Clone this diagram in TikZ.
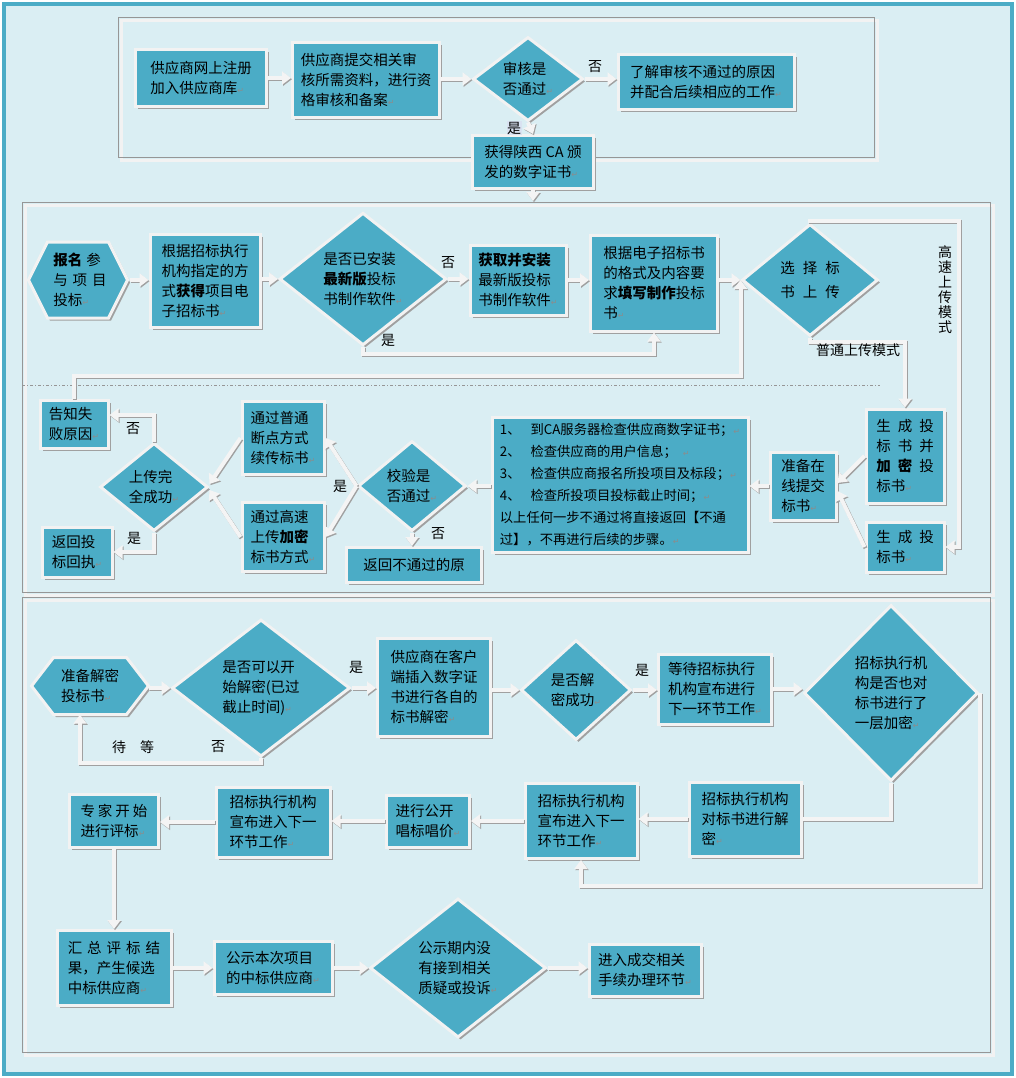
\documentclass[tikz,border=0pt]{standalone}
\usepackage{fontspec}
\setmainfont{Noto Sans CJK SC}
\newfontfamily\djv{DejaVu Sans}
\usetikzlibrary{shapes.geometric,arrows.meta,shadows}
\definecolor{bgc}{HTML}{DAEEF3}
\definecolor{teal1}{HTML}{4BACC6}
\definecolor{edgec}{HTML}{F2F2F2}
\definecolor{arrc}{HTML}{F4F4F4}
\definecolor{shc}{HTML}{A0A0A0}
\definecolor{frc}{HTML}{969696}
\definecolor{retc}{HTML}{8C8C8C}
\definecolor{labbg}{HTML}{D9E2F1}
\newcommand\retmark{{\djv\fontsize{8}{8}\selectfont\color{retc}↵}}
\tikzset{
  box/.style={draw=edgec, line width=3pt, fill=teal1, inner sep=0pt, align=left,
    font=\fontsize{14.5}{20}\selectfont,
    drop shadow={shadow xshift=2.5pt, shadow yshift=-2.5pt, fill=shc, opacity=1}},
  dia/.style={box, diamond},
  txt/.style={inner sep=0pt, align=left, font=\fontsize{14.5}{20}\selectfont},
  hexs/.style={fill=teal1, draw=edgec, line width=3pt,
    drop shadow={shadow xshift=2.5pt, shadow yshift=-2.5pt, fill=shc, opacity=1}},
  lab/.style={inner sep=0.5pt, font=\fontsize{14}{16}\selectfont},
  arr/.style={line width=4pt, draw=arrc, -{Triangle[width=13pt,length=9pt]},
    preaction={draw=shc, line width=4pt, transform canvas={shift={(1pt,-1.2pt)}}}},
  ln/.style={line width=4pt, draw=arrc,
    preaction={draw=shc, line width=4pt, transform canvas={shift={(1pt,-1.2pt)}}}},
  frg/.style={draw=frc, line width=1pt},
  frw/.style={draw=edgec, line width=3pt},
}
\begin{document}
\begin{tikzpicture}[x=1pt,y=-1pt]
\useasboundingbox (0,0) rectangle (1016,1078);
\fill[white] (0,0) rectangle (1016,1078);
\draw[teal1, line width=4pt, fill=bgc] (4,4) rectangle (1012,1074);

% section frames
\draw[frw] (121,21) rectangle (877,161);
\draw[frg] (118,18) rectangle (874,158);
\draw[frw] (25,205) rectangle (993,595);
\draw[frg] (22,202) rectangle (990,592);
\draw[frw] (25,600) rectangle (993,1055);
\draw[frg] (22,597) rectangle (990,1052);
\draw[frc, line width=1pt, dash dot] (22,385) -- (880,385);

\coordinate (s2top) at (0,201);
\coordinate (r1) at (0,376);
\coordinate (hs) at (959,221);
\coordinate (r3) at (0,886);

% ---------- section 1 ----------
\node[box, minimum width=131, minimum height=57] (A1) at (201,78) {供应商网上注册\\加入供应商库\retmark};
\node[box, minimum width=147, minimum height=75] (A2) at (366,80) {供应商提交相关审\\核所需资料，进行资\\格审核和备案\retmark};
\node[dia, minimum width=110, minimum height=84] (D1) at (528,79) {审核是\\否通过\retmark};
\node[box, minimum width=176, minimum height=55] (A3) at (706,82) {了解审核不通过的原因\\并配合后续相应的工作\retmark};
\node[box, minimum width=121, minimum height=53] (A4) at (533,162) {获得陕西 CA 颁\\发的数字证书\retmark};

\draw[arr] (A1.east) -- (A1.east -| A2.west);
\draw[arr] (D1.west -| A2.east) -- (D1.west);
\draw[arr] (D1.east) -- (D1.east -| A3.west);
\draw[arr] (D1.south) -- (A4.north);
\draw[arr] (A4.south) -- (A4.south |- s2top);
\node[lab] (l1) at (595,67) {否};
\node[lab, fill=labbg] (l2) at (514,128) {是};

% ---------- section 2 ----------
\filldraw[hexs] (28.5,280) -- (47.5,242) -- (108.5,242) -- (127.5,280) -- (108.5,318) -- (47.5,318) -- cycle;
\node[txt, minimum width=99, minimum height=76] (B1) at (80,280) {\textbf{报名}\hspace{4pt}参\\与\hspace{5pt}项\hspace{5pt}目\\投标\retmark};
\node[box, minimum width=110, minimum height=93] (B2) at (205,281) {根据招标执行\\机构指定的方\\式\textbf{获得}项目电\\子招标书\retmark};
\node[dia, minimum width=167, minimum height=128] (D2) at (363,279) {是否已安装\\\textbf{最新版}投标\\书制作软件\retmark};
\node[box, minimum width=96, minimum height=70] (B3) at (518,280) {\textbf{获取并安装}\\最新版投标\\书制作软件\retmark};
\node[box, minimum width=127, minimum height=96] (B4) at (654,283) {根据电子招标书\\的格式及内容要\\求\textbf{填写制作}投标\\书\retmark};
\node[dia, minimum width=136, minimum height=112] (D3) at (810,280) {选\hspace{8pt}择\hspace{8pt}标\\[4pt]书\hspace{8pt}上\hspace{8pt}传};

\node[box, minimum width=78, minimum height=94] (B5) at (905,456) {生\hspace{7pt}成\hspace{7pt}投\\标\hspace{7pt}书\hspace{7pt}并\\\textbf{加\hspace{7pt}密}\hspace{7pt}投\\标书\retmark};
\node[box, minimum width=78, minimum height=50] (B6) at (905,547) {生\hspace{7pt}成\hspace{7pt}投\\标书\retmark};
\node[box, minimum width=66, minimum height=68] (B7) at (803,486) {准备在\\线提交\\标书\retmark};
\node[box, minimum width=256, minimum height=135, font=\fontsize{13.3}{22}\selectfont] (B8) at (620,485) {1、\hspace{10pt}到CA服务器检查供应商数字证书；\retmark\\2、\hspace{10pt}检查供应商的用户信息；\hspace{6pt}\retmark\\3、\hspace{10pt}检查供应商报名所投项目及标段；\retmark\\4、\hspace{10pt}检查所投项目投标截止时间；\retmark\\以上任何一步不通过将直接返回【不通\\过】，不再进行后续的步骤。\retmark};
\node[dia, minimum width=108, minimum height=90] (D4) at (412,486) {校验是\\否通过\retmark};
\node[box, minimum width=135, minimum height=35] (B9) at (414,565) {返回不通过的原};
\node[box, minimum width=82, minimum height=73] (B10) at (283,438) {通过普通\\断点方式\\续传标书\retmark};
\node[box, minimum width=82, minimum height=69] (B11) at (283,537) {通过高速\\上传\textbf{加密}\\标书方式\retmark};
\node[dia, minimum width=108, minimum height=88] (D5) at (154,487) {上传完\\全成功\retmark};
\node[box, minimum width=68, minimum height=48] (B12) at (74,424) {告知失\\败原因\retmark};
\node[box, minimum width=70, minimum height=50] (B13) at (77,552) {返回投\\标回执\retmark};

\draw[arr] (B1.east) -- (B1.east -| B2.west);
\draw[arr] (D2.west -| B2.east) -- (D2.west);
\draw[arr] (D2.east) -- (D2.east -| B3.west);
\draw[arr] (B3.east) -- (B3.east -| B4.west);
\draw[arr] (D3.west -| B4.east) -- (D3.west);
\draw[arr] (D2.south) -- ++(0,7) -| (B4.south);
\draw[arr] (B12.north) -- (B12.north |- r1) -- (D3.west |- r1) -- (D3.west);
\draw[arr] (D3.north) |- (hs) |- (B6.east);
\draw[arr] (D3.south) -- ++(0,4) -| (B5.north);
\draw[arr] (B5.west) -- ([yshift=3pt]B7.east);
\draw[arr] (B6.west) -- ([yshift=-5pt]B7.east);
\draw[arr] (B7.west) -- (B7.west -| B8.east);
\draw[arr] (D4.east -| B8.west) -- (D4.east);
\draw[arr] (D4.south) -- (D4.south |- B9.north);
\draw[arr] (D4.west) -- (B10.east);
\draw[arr] (D4.west) -- (B11.east);
\draw[arr] (B10.west) -- ([yshift=3pt]D5.east);
\draw[arr] (B11.west) -- ([yshift=-3pt]D5.east);
\draw[arr] (D5.north) |- ([yshift=9pt]B12.east);
\draw[arr] (D5.south) |- (B13.east);

\node[lab] (l3) at (448,263) {否};
\node[lab] (l4) at (388,340) {是};
\node[lab, align=center, font=\fontsize{14}{15}\selectfont] (l5) at (945,290) {高\\速\\上\\传\\模\\式};
\node[lab] (l6) at (858,350) {普通上传模式};
\node[lab] (l7) at (340,486) {是};
\node[lab] (l8) at (438,534) {否};
\node[lab] (l9) at (133,429) {否};
\node[lab] (l10) at (134,538) {是};

% ---------- section 3 ----------
\filldraw[hexs] (31.5,686) -- (53.5,657.5) -- (126.5,657.5) -- (148.5,686) -- (126.5,714.5) -- (53.5,714.5) -- cycle;
\node[txt, minimum width=117, minimum height=57] (C1) at (90,686) {准备解密\\投标书\retmark};
\node[dia, minimum width=178, minimum height=137] (D6) at (261,688) {是否可以开\\始解密(已过\\截止时间)\retmark};
\node[box, minimum width=113, minimum height=98] (C2) at (434,687) {供应商在客户\\端插入数字证\\书进行各自的\\标书解密\retmark};
\node[dia, minimum width=110, minimum height=100] (D7) at (576,690) {是否解\\密成功\retmark};
\node[box, minimum width=113, minimum height=70] (C3) at (715,689) {等待招标执行\\机构宣布进行\\下一环节工作\retmark};
\node[dia, minimum width=174, minimum height=176] (D8) at (891,693) {招标执行机\\构是否也对\\标书进行了\\一层加密\retmark};
\node[box, minimum width=112, minimum height=74] (C4) at (745,819) {招标执行机构\\对标书进行解\\密\retmark};
\node[box, minimum width=112, minimum height=75] (C5) at (581,821) {招标执行机构\\宣布进入下一\\环节工作\retmark};
\node[box, minimum width=83, minimum height=52] (C6) at (428,821) {进行公开\\唱标唱价\retmark};
\node[box, minimum width=114, minimum height=70] (C7) at (273,822) {招标执行机构\\宣布进入下一\\环节工作\retmark};
\node[box, minimum width=89, minimum height=53] (C8) at (114,821) {专\hspace{3pt}家\hspace{3pt}开\hspace{3pt}始\\进行评标\retmark};
\node[box, minimum width=114, minimum height=75] (C9) at (114,968) {汇\hspace{5pt}总\hspace{5pt}评\hspace{5pt}标\hspace{5pt}结\\果，产生候选\\中标供应商\retmark};
\node[box, minimum width=118, minimum height=53] (C10) at (273,968) {公示本次项目\\的中标供应商\retmark};
\node[dia, minimum width=176, minimum height=139] (D9) at (458,968) {公示期内没\\有接到相关\\质疑或投诉\retmark};
\node[box, minimum width=112, minimum height=52] (C11) at (645,970) {进入成交相关\\手续办理环节\retmark};

\draw[arr] (D6.west -| C1.east) -- (D6.west);
\draw[arr] (D6.east) -- (D6.east -| C2.west);
\draw[arr] (C2.east |- D7.west) -- (D7.west);
\draw[arr] (D7.east) -- (D7.east -| C3.west);
\draw[arr] (C3.east) -- (C3.east -| D8.west);
\draw[arr] (D6.south) -- ++(0,5) -| ([xshift=-10pt]C1.south);
\draw[ln] (D8.south) |- (C4.east);
\draw[arr] (D8.east) -- (D8.east |- r3) -| (C5.south);
\draw[arr] (C4.west) -- (C4.west -| C5.east);
\draw[arr] (C5.west) -- (C5.west -| C6.east);
\draw[arr] (C6.west) -- (C6.west -| C7.east);
\draw[arr] (C7.west) -- (C7.west -| C8.east);
\draw[arr] (C8.south) -- (C8.south |- C9.north);
\draw[arr] (C9.east) -- (C9.east -| C10.west);
\draw[arr] (C10.east) -- (C10.east -| D9.west);
\draw[arr] (D9.east) -- (D9.east -| C11.west);

\node[lab] (l11) at (356,667) {是};
\node[lab] (l12) at (133,747) {待\hspace{14pt}等};
\node[lab] (l13) at (218,747) {否};
\node[lab] (l14) at (642,670) {是};
\end{tikzpicture}
\end{document}
